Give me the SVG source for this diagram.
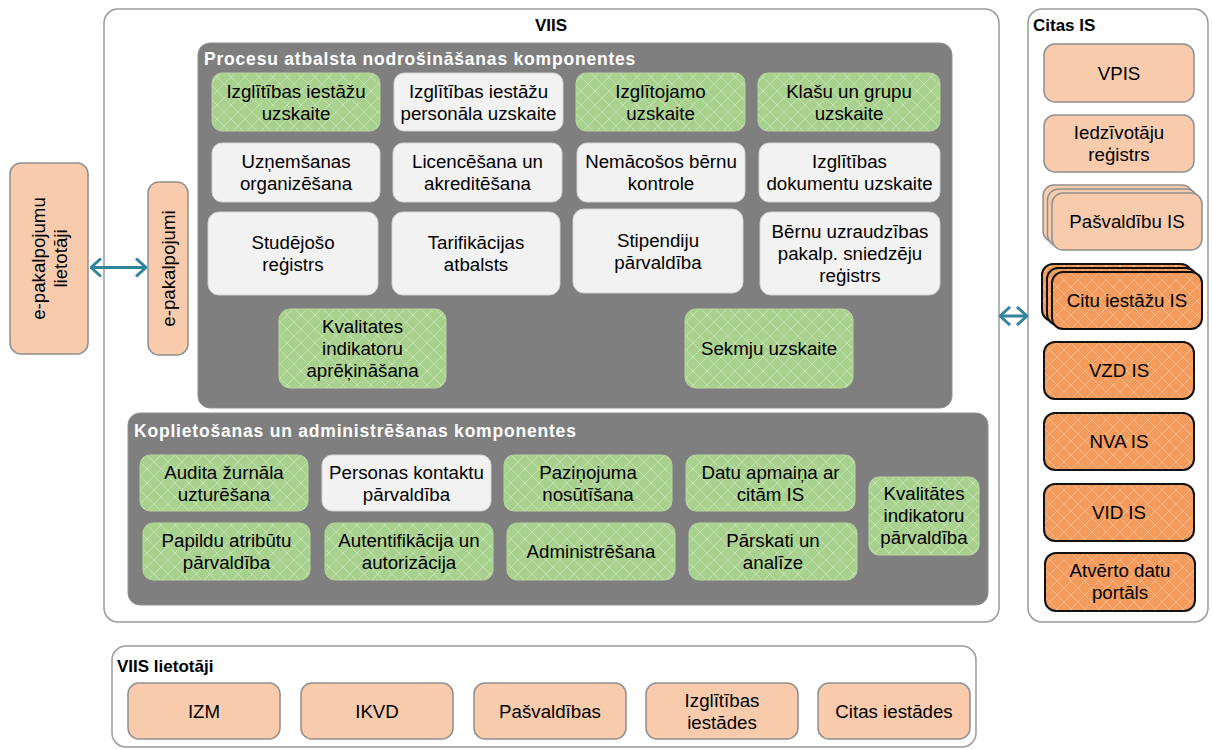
<svg xmlns="http://www.w3.org/2000/svg" width="1212" height="749" viewBox="0 0 1212 749">
<defs>
<style>
.t{font-family:"Liberation Sans",Arial,sans-serif;font-size:18.7px;fill:#000;text-anchor:middle}
.h{font-family:"Liberation Sans",Arial,sans-serif;font-weight:bold;font-size:17px;fill:#000}
.hw{font-family:"Liberation Sans",Arial,sans-serif;font-weight:bold;font-size:17.5px;fill:#fff;letter-spacing:0.8px}
.outer{fill:#fff;stroke:#9a9a9a;stroke-width:1.5}
.panel{fill:#7f7f7f;stroke:#8f8f8f;stroke-width:1}
.g{fill:url(#hatchG);stroke:#b5d69e;stroke-width:1}
.w{fill:#f2f2f2;stroke:#d4d4d4;stroke-width:1}
.p{fill:#f8cbad;stroke:#8f8f8f;stroke-width:1.5}
.o{fill:url(#hatchO);stroke:#111;stroke-width:2}
.conn{fill:none;stroke:#31849b;stroke-width:3}
</style>
<pattern id="hatchG" patternUnits="userSpaceOnUse" width="14" height="14">
<rect width="14" height="14" fill="#a9d18e"/>
<path d="M-1,-1 L15,15 M15,-1 L-1,15" stroke="#fff" stroke-opacity="0.32" stroke-width="1"/>
</pattern>
<pattern id="hatchO" patternUnits="userSpaceOnUse" width="14" height="14">
<rect width="14" height="14" fill="#f29b5c"/>
<path d="M-1,-1 L15,15 M15,-1 L-1,15" stroke="#fff" stroke-opacity="0.28" stroke-width="1"/>
</pattern>
<marker id="chev" viewBox="0 0 12 20" refX="11" refY="10" markerWidth="12" markerHeight="20" orient="auto-start-reverse" markerUnits="userSpaceOnUse">
<path d="M1,1 L11,10 L1,19" fill="none" stroke="#31849b" stroke-width="3"/>
</marker>
</defs>

<g id="viis">
<rect class="outer" x="104" y="9" width="895" height="613" rx="14"/>
<text class="h" x="551" y="31" text-anchor="middle">VIIS</text>
</g>
<g id="citas-is">
<rect class="outer" x="1028" y="9" width="180" height="613" rx="14"/>
<text class="h" x="1033" y="31" font-size="19.5">Citas IS</text>
</g>
<g id="viis-lietotaji">
<rect class="outer" x="112" y="646" width="864" height="101" rx="14"/>
<text class="h" x="117" y="672">VIIS lietotāji</text>
</g>

<g id="procesu-panel">
<rect class="panel" x="198" y="43" width="754" height="365" rx="12"/>
<text class="hw" x="204" y="65">Procesu atbalsta nodrošināšanas komponentes</text>
</g>
<g id="koplietosanas-panel">
<rect class="panel" x="128" y="413" width="860" height="192" rx="12"/>
<text class="hw" x="134" y="437">Koplietošanas un administrēšanas komponentes</text>
</g>

<g id="n-izgl-iestazu"><rect class="g" x="212" y="73" width="168" height="58" rx="10"/><text class="t" x="296" y="97.5">Izglītības iestāžu</text><text class="t" x="296" y="119.5">uzskaite</text></g>
<g id="n-personala"><rect class="w" x="394" y="73" width="169" height="58" rx="10"/><text class="t" x="478.5" y="97.5">Izglītības iestāžu</text><text class="t" x="478.5" y="119.5">personāla uzskaite</text></g>
<g id="n-izglitojamo"><rect class="g" x="576" y="73" width="169" height="58" rx="10"/><text class="t" x="660.5" y="97.5">Izglītojamo</text><text class="t" x="660.5" y="119.5">uzskaite</text></g>
<g id="n-klasu"><rect class="g" x="758" y="73" width="182" height="58" rx="10"/><text class="t" x="849" y="97.5">Klašu un grupu</text><text class="t" x="849" y="119.5">uzskaite</text></g>

<g id="n-uznemsanas"><rect class="w" x="212" y="143" width="168" height="59" rx="10"/><text class="t" x="296" y="168">Uzņemšanas</text><text class="t" x="296" y="190">organizēšana</text></g>
<g id="n-licencesana"><rect class="w" x="393" y="143" width="169" height="59" rx="10"/><text class="t" x="477.5" y="168">Licencēšana un</text><text class="t" x="477.5" y="190">akreditēšana</text></g>
<g id="n-nemacosos"><rect class="w" x="577" y="143" width="168" height="59" rx="10"/><text class="t" x="661" y="168">Nemācošos bērnu</text><text class="t" x="661" y="190">kontrole</text></g>
<g id="n-izgl-dok"><rect class="w" x="759" y="143" width="181" height="59" rx="10"/><text class="t" x="849.5" y="168">Izglītības</text><text class="t" x="849.5" y="190">dokumentu uzskaite</text></g>

<g id="n-studejoso"><rect class="w" x="208" y="212" width="170" height="83" rx="11"/><text class="t" x="293" y="249">Studējošo</text><text class="t" x="293" y="271">reģistrs</text></g>
<g id="n-tarifikacijas"><rect class="w" x="392" y="212" width="168" height="83" rx="11"/><text class="t" x="476" y="249">Tarifikācijas</text><text class="t" x="476" y="271">atbalsts</text></g>
<g id="n-stipendiju"><rect class="w" x="573" y="209" width="170" height="84" rx="11"/><text class="t" x="658" y="246.5">Stipendiju</text><text class="t" x="658" y="268.5">pārvaldība</text></g>
<g id="n-bernu"><rect class="w" x="760" y="212" width="180" height="83" rx="11"/><text class="t" x="850" y="238">Bērnu uzraudzības</text><text class="t" x="850" y="260">pakalp. sniedzēju</text><text class="t" x="850" y="282">reģistrs</text></g>

<g id="n-kval-aprek"><rect class="g" x="279" y="309" width="167" height="79" rx="11"/><text class="t" x="362.5" y="333">Kvalitates</text><text class="t" x="362.5" y="355">indikatoru</text><text class="t" x="362.5" y="377">aprēķināšana</text></g>
<g id="n-sekmju"><rect class="g" x="685" y="309" width="168" height="79" rx="11"/><text class="t" x="769" y="355">Sekmju uzskaite</text></g>

<g id="n-audita"><rect class="g" x="140" y="455" width="168" height="56" rx="10"/><text class="t" x="224" y="478.5">Audita žurnāla</text><text class="t" x="224" y="500.5">uzturēšana</text></g>
<g id="n-personas"><rect class="w" x="322" y="455" width="169" height="56" rx="10"/><text class="t" x="406.5" y="478.5">Personas kontaktu</text><text class="t" x="406.5" y="500.5">pārvaldība</text></g>
<g id="n-pazinojuma"><rect class="g" x="504" y="455" width="168" height="56" rx="10"/><text class="t" x="588" y="478.5">Paziņojuma</text><text class="t" x="588" y="500.5">nosūtīšana</text></g>
<g id="n-datu"><rect class="g" x="686" y="455" width="169" height="56" rx="10"/><text class="t" x="770.5" y="478.5">Datu apmaiņa ar</text><text class="t" x="770.5" y="500.5">citām IS</text></g>
<g id="n-papildu"><rect class="g" x="143" y="523" width="167" height="57" rx="10"/><text class="t" x="226.5" y="547">Papildu atribūtu</text><text class="t" x="226.5" y="569">pārvaldība</text></g>
<g id="n-autentifikacija"><rect class="g" x="325" y="523" width="168" height="57" rx="10"/><text class="t" x="409" y="547">Autentifikācija un</text><text class="t" x="409" y="569">autorizācija</text></g>
<g id="n-administresana"><rect class="g" x="507" y="523" width="168" height="57" rx="10"/><text class="t" x="591" y="558">Administrēšana</text></g>
<g id="n-parskati"><rect class="g" x="689" y="523" width="168" height="57" rx="10"/><text class="t" x="773" y="547">Pārskati un</text><text class="t" x="773" y="569">analīze</text></g>
<g id="n-kval-parv"><rect class="g" x="869" y="477" width="110" height="78" rx="10"/><text class="t" x="924" y="500">Kvalitātes</text><text class="t" x="924" y="522">indikatoru</text><text class="t" x="924" y="544">pārvaldība</text></g>

<g id="n-epak-lietotaji"><rect class="p" x="10" y="163" width="78" height="191" rx="11"/><text class="t" transform="translate(49,258.5) rotate(-90)" x="0" y="-4.5">e-pakalpojumu</text><text class="t" transform="translate(49,258.5) rotate(-90)" x="0" y="17.5">lietotāji</text></g>
<g id="n-epakalpojumi"><rect class="p" x="148" y="182" width="40" height="173" rx="11"/><text class="t" transform="translate(168,268.5) rotate(-90)" x="0" y="6.5">e-pakalpojumi</text></g>

<g id="n-vpis"><rect class="p" x="1044" y="44" width="150" height="58" rx="11"/><text class="t" x="1119" y="79.5">VPIS</text></g>
<g id="n-iedzivotaju"><rect class="p" x="1044" y="115" width="150" height="57" rx="11"/><text class="t" x="1119" y="139">Iedzīvotāju</text><text class="t" x="1119" y="161">reģistrs</text></g>
<g id="n-pasvaldibu-is"><rect class="p" x="1043" y="185" width="150" height="57" rx="11"/><rect class="p" x="1047.5" y="189" width="150" height="57" rx="11"/><rect class="p" x="1052" y="193" width="150" height="57" rx="11"/><text class="t" x="1127" y="228">Pašvaldību IS</text></g>
<g id="n-citu-iestazu"><rect class="o" x="1042" y="264" width="150" height="57" rx="11"/><rect class="o" x="1047" y="268" width="150" height="57" rx="11"/><rect class="o" x="1052" y="272" width="150" height="57" rx="11"/><text class="t" x="1127" y="307">Citu iestāžu IS</text></g>
<g id="n-vzd"><rect class="o" x="1044" y="342" width="150" height="57" rx="11"/><text class="t" x="1119" y="377">VZD IS</text></g>
<g id="n-nva"><rect class="o" x="1044" y="413" width="150" height="57" rx="11"/><text class="t" x="1119" y="448">NVA IS</text></g>
<g id="n-vid"><rect class="o" x="1044" y="484" width="150" height="57" rx="11"/><text class="t" x="1119" y="519">VID IS</text></g>
<g id="n-atverto"><rect class="o" x="1045" y="553" width="150" height="58" rx="11"/><text class="t" x="1120" y="577">Atvērto datu</text><text class="t" x="1120" y="599">portāls</text></g>

<g id="n-izm"><rect class="p" x="128" y="683" width="152" height="56" rx="11"/><text class="t" x="204" y="717.5">IZM</text></g>
<g id="n-ikvd"><rect class="p" x="301" y="683" width="152" height="56" rx="11"/><text class="t" x="377" y="717.5">IKVD</text></g>
<g id="n-pasvaldibas"><rect class="p" x="474" y="683" width="152" height="56" rx="11"/><text class="t" x="550" y="717.5">Pašvaldības</text></g>
<g id="n-izgl-iestades"><rect class="p" x="646" y="683" width="152" height="56" rx="11"/><text class="t" x="722" y="706.5">Izglītības</text><text class="t" x="722" y="728.5">iestādes</text></g>
<g id="n-citas-iestades"><rect class="p" x="818" y="683" width="152" height="56" rx="11"/><text class="t" x="894" y="717.5">Citas iestādes</text></g>

<g id="connectors">
<path class="conn" d="M91,267.5 L146,267.5" marker-start="url(#chev)" marker-end="url(#chev)"/>
<path class="conn" d="M1000,316 L1027,316" marker-start="url(#chev)" marker-end="url(#chev)"/>
</g>
</svg>
